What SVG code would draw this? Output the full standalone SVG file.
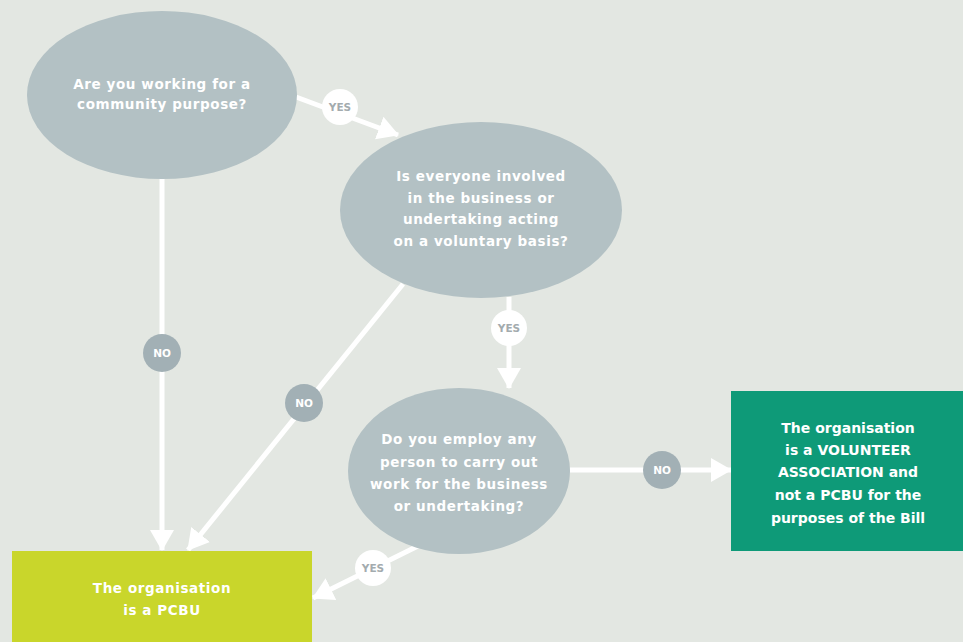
<svg xmlns="http://www.w3.org/2000/svg" width="963" height="642" viewBox="0 0 963 642">
<defs>
<style>
.q{fill:#b3c1c4}
.qt{fill:#ffffff;font-family:"DejaVu Sans",sans-serif;font-size:13.5px;font-weight:bold;text-anchor:middle;letter-spacing:0.6px}
.bt{fill:#ffffff;font-family:"DejaVu Sans",sans-serif;font-size:14px;font-weight:bold;text-anchor:middle}
.c{stroke:#ffffff;stroke-width:5;fill:none;marker-end:url(#ah)}
.yes{fill:#ffffff}
.no{fill:#a2b0b5}
.yt{fill:#a3abae;font-family:"DejaVu Sans",sans-serif;font-size:10.5px;font-weight:bold;text-anchor:middle}
.nt{fill:#ffffff;font-family:"DejaVu Sans",sans-serif;font-size:10.5px;font-weight:bold;text-anchor:middle}
</style>
<marker id="ah" markerUnits="userSpaceOnUse" markerWidth="24" markerHeight="26" refX="20" refY="13" orient="auto">
<path d="M0,1 L21,13 L0,25 z" fill="#ffffff"/>
</marker>
</defs>
<rect x="0" y="0" width="963" height="642" fill="#e3e7e2"/>
<g id="connectors">
<line class="c" x1="296" y1="97" x2="398" y2="135"/>
<line class="c" x1="162" y1="178" x2="162" y2="550"/>
<line class="c" x1="403" y1="284" x2="188" y2="550"/>
<line class="c" x1="509" y1="297" x2="509" y2="388"/>
<line class="c" x1="570" y1="470" x2="731" y2="470"/>
<line class="c" x1="420" y1="545" x2="313" y2="598"/>
<g id="lbl-yes1"><circle class="yes" cx="340" cy="107" r="18"/><text class="yt" x="340" y="111">YES</text></g>
<g id="lbl-no1"><circle class="no" cx="162" cy="353" r="19"/><text class="nt" x="162" y="357">NO</text></g>
<g id="lbl-no2"><circle class="no" cx="304" cy="403" r="19"/><text class="nt" x="304" y="407">NO</text></g>
<g id="lbl-yes2"><circle class="yes" cx="509" cy="328" r="18"/><text class="yt" x="509" y="332">YES</text></g>
<g id="lbl-no3"><circle class="no" cx="662" cy="470" r="19"/><text class="nt" x="662" y="474">NO</text></g>
<g id="lbl-yes3"><circle class="yes" cx="373" cy="568" r="18"/><text class="yt" x="373" y="572">YES</text></g>
</g>
<g id="q1">
<ellipse class="q" cx="162" cy="95" rx="135" ry="84"/>
<text class="qt" x="162" y="89">Are you working for a</text>
<text class="qt" x="162" y="109">community purpose?</text>
</g>
<g id="q2">
<ellipse class="q" cx="481" cy="210" rx="141" ry="88"/>
<text class="qt" x="481" y="181">Is everyone involved</text>
<text class="qt" x="481" y="203">in the business or</text>
<text class="qt" x="481" y="224">undertaking acting</text>
<text class="qt" x="481" y="246">on a voluntary basis?</text>
</g>
<g id="q3">
<ellipse class="q" cx="459" cy="471" rx="111" ry="83"/>
<text class="qt" x="459" y="444">Do you employ any</text>
<text class="qt" x="459" y="467">person to carry out</text>
<text class="qt" x="459" y="489">work for the business</text>
<text class="qt" x="459" y="511">or undertaking?</text>
</g>
<g id="volunteer">
<rect x="731" y="391" width="232" height="160" fill="#0e9a78"/>
<text class="bt" x="848" y="433">The organisation</text>
<text class="bt" x="848" y="455">is a VOLUNTEER</text>
<text class="bt" x="848" y="477">ASSOCIATION and</text>
<text class="bt" x="848" y="500">not a PCBU for the</text>
<text class="bt" x="848" y="523">purposes of the Bill</text>
</g>
<g id="pcbu">
<rect x="12" y="551" width="300" height="91" fill="#c9d62b"/>
<text class="qt" x="162" y="593">The organisation</text>
<text class="qt" x="162" y="615">is a PCBU</text>
</g>
</svg>
